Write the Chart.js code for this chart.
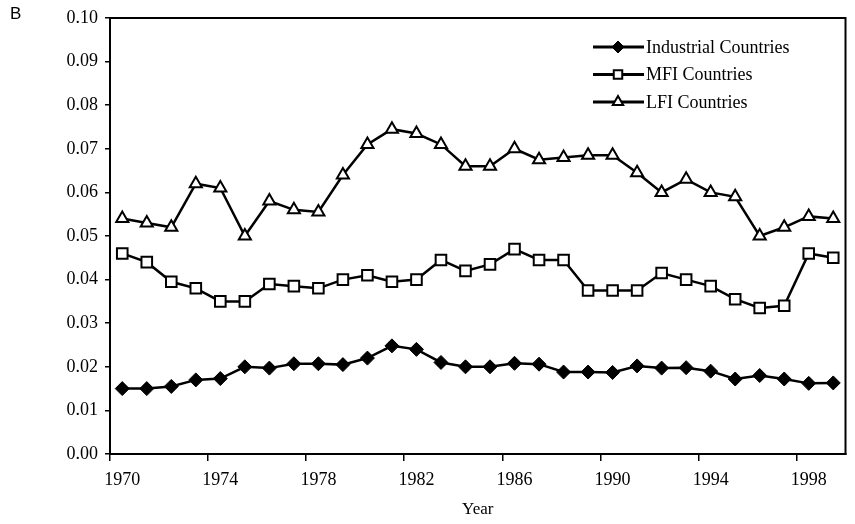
<!DOCTYPE html>
<html>
<head>
<meta charset="utf-8">
<script src="https://cdn.jsdelivr.net/npm/chart.js@4.4.0/dist/chart.umd.min.js"></script>
<style>
  html, body { margin: 0; padding: 0; background: #fff; }
  #wrap { width: 855px; height: 524px; position: relative; }
  #tag { position: absolute; left: 10px; top: 4px; font: 17px "Liberation Sans", Arial, sans-serif; }
</style>
</head>
<body>
<div id="wrap">
  <canvas id="chart" width="855" height="524"></canvas>
  <div id="tag">B</div>
</div>
<script>
// Data
const years = [];
for (let y = 1970; y <= 1999; y++) years.push(String(y));

const industrial = [0.015, 0.015, 0.0155, 0.017, 0.0173, 0.020, 0.0197, 0.0207, 0.0207, 0.0205,
                    0.022, 0.0248, 0.024, 0.021, 0.020, 0.020, 0.0208, 0.0206, 0.0188, 0.0188,
                    0.0187, 0.0202, 0.0197, 0.0198, 0.019, 0.0172, 0.018, 0.0172, 0.0162, 0.0163];
const mfi = [0.046, 0.044, 0.0395, 0.038, 0.035, 0.035, 0.039, 0.0385, 0.038, 0.040,
             0.041, 0.0395, 0.040, 0.0445, 0.042, 0.0435, 0.047, 0.0445, 0.0445, 0.0375,
             0.0375, 0.0375, 0.0415, 0.040, 0.0385, 0.0355, 0.0335, 0.034, 0.046, 0.045];
const lfi = [0.054, 0.053, 0.052, 0.062, 0.061, 0.050, 0.058, 0.056, 0.0555, 0.064,
             0.071, 0.0745, 0.0735, 0.071, 0.066, 0.066, 0.070, 0.0675, 0.068, 0.0685,
             0.0685, 0.0645, 0.060, 0.063, 0.060, 0.059, 0.050, 0.052, 0.0545, 0.054];

const seriesNames = ["Industrial Countries", "MFI Countries", "LFI Countries"];

const serif = "'Liberation Serif', 'Times New Roman', serif";

// Frame around the plot area + legend inside it
const framePlugin = {
  id: 'frame',
  afterDraw(chart) {
    const { ctx, chartArea: a } = chart;
    ctx.save();
    ctx.strokeStyle = '#000';
    ctx.lineWidth = 2;
    ctx.strokeRect(a.left, a.top, a.right - a.left, a.bottom - a.top);

    // legend
    const lx = 593, ly = 47, gap = 27.5;
    chart.data.datasets.forEach((ds, i) => {
      const y = ly + i * gap;
      ctx.strokeStyle = '#000';
      ctx.lineWidth = 3;
      ctx.beginPath();
      ctx.moveTo(lx, y);
      ctx.lineTo(lx + 51, y);
      ctx.stroke();
      ctx.fillStyle = ds.pointBackgroundColor;
      ctx.lineWidth = ds.pointBorderWidth;
      Chart.helpers.drawPoint(ctx, { pointStyle: ds.pointStyle, radius: 6, borderWidth: ds.pointBorderWidth }, lx + 25, y);
      ctx.fillStyle = '#000';
      ctx.font = '18px ' + serif;
      ctx.textBaseline = 'middle';
      ctx.fillText(ds.label, lx + 53, y + 1);
    });
    ctx.restore();
  }
};

const ctx = document.getElementById('chart').getContext('2d');
new Chart(ctx, {
  type: 'line',
  data: {
    labels: years,
    datasets: [
      {
        label: seriesNames[0], data: industrial,
        borderColor: '#000', borderWidth: 2.5,
        pointStyle: 'rectRot', pointRadius: 7, pointBorderWidth: 1,
        pointBackgroundColor: '#000', pointBorderColor: '#000'
      },
      {
        label: seriesNames[1], data: mfi,
        borderColor: '#000', borderWidth: 2.5,
        pointStyle: 'rect', pointRadius: 7.5, pointBorderWidth: 2,
        pointBackgroundColor: '#fff', pointBorderColor: '#000'
      },
      {
        label: seriesNames[2], data: lfi,
        borderColor: '#000', borderWidth: 2.5,
        pointStyle: 'triangle', pointRadius: 7, pointBorderWidth: 2,
        pointBackgroundColor: '#fff', pointBorderColor: '#000'
      }
    ]
  },
  options: {
    responsive: false,
    animation: false,
    layout: { padding: { top: 18, right: 6, left: 0, bottom: 0 } },
    plugins: { legend: { display: false }, tooltip: { enabled: false } },
    scales: {
      x: {
        offset: true,
        grid: {
          offset: true,
          drawOnChartArea: false,
          tickLength: 7,
          color: c => (c.index % 4 === 0 ? '#000' : 'rgba(0,0,0,0)'),
          lineWidth: 1.5
        },
        border: { color: '#000', width: 2 },
        ticks: {
          autoSkip: false, maxRotation: 0, color: '#000', padding: 8,
          font: { family: serif, size: 18 },
          callback: (v, i) => (i % 4 === 0 ? years[i] : '')
        },
        title: { display: true, text: 'Year', color: '#000', font: { family: serif, size: 17 }, padding: { top: 9, bottom: 4 } },
        afterFit: s => { s.height = 70; s.paddingLeft = 0; s.paddingRight = 0; }
      },
      y: {
        min: 0, max: 0.10,
        grid: { drawOnChartArea: false, tickLength: 5, color: '#000', lineWidth: 1.5 },
        border: { color: '#000', width: 2 },
        ticks: {
          stepSize: 0.01, color: '#000', padding: 7,
          font: { family: serif, size: 18 },
          callback: v => v.toFixed(2)
        },
        afterFit: s => { s.width = 110; }
      }
    }
  },
  plugins: [framePlugin]
});
</script>
</body>
</html>
